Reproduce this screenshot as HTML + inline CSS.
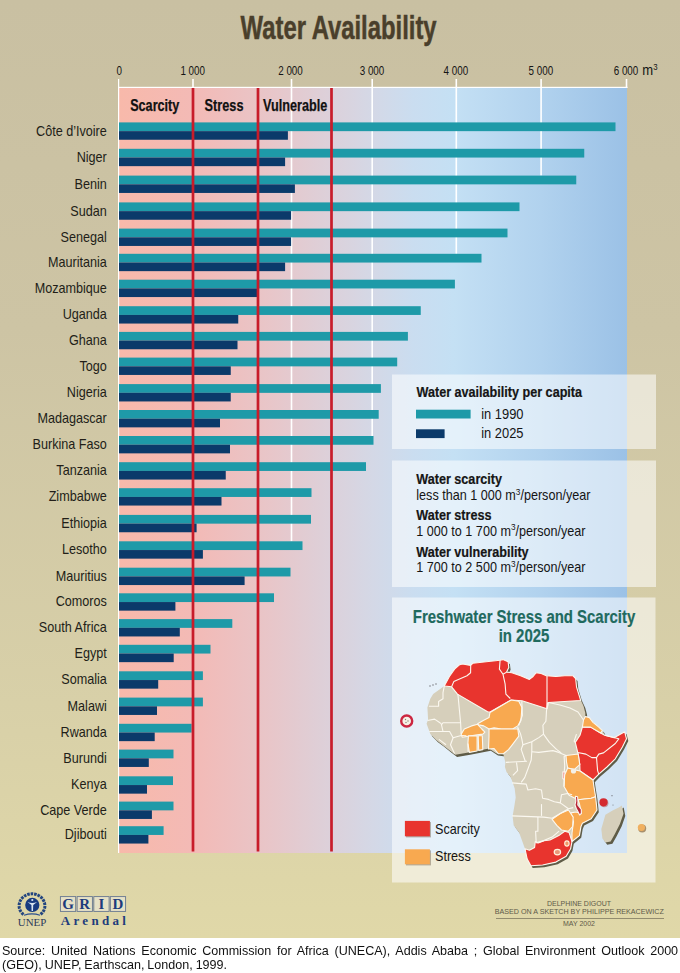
<!DOCTYPE html>
<html><head><meta charset="utf-8">
<style>
html,body{margin:0;padding:0;}
body{width:680px;height:973px;overflow:hidden;position:relative;background:#fff;font-family:"Liberation Sans",sans-serif;}
#bg{position:absolute;left:0;top:0;width:680px;height:938px;background:linear-gradient(to bottom,#C9C0A2 0%,#CDC4A4 35%,#D8D0A8 75%,#E0D8A8 100%);}
svg{position:absolute;left:0;top:0;}
#src{position:absolute;left:2px;top:944px;width:727px;font-size:13.5px;line-height:14px;color:#111;word-spacing:-0.6px;text-align:justify;text-align-last:left;transform:scaleX(0.93);transform-origin:0 0;}
</style></head><body>
<div id="bg"></div>
<svg width="680" height="938" viewBox="0 0 680 938" font-family="Liberation Sans, sans-serif">
<defs>
<linearGradient id="pg" x1="118" x2="627" y1="0" y2="0" gradientUnits="userSpaceOnUse">
<stop offset="0" stop-color="#F8B9AA"/>
<stop offset="0.15" stop-color="#F3BAB6"/>
<stop offset="0.30" stop-color="#E8C6C9"/>
<stop offset="0.50" stop-color="#D4D8E6"/>
<stop offset="0.58" stop-color="#CADDF0"/>
<stop offset="0.66" stop-color="#C4E0F4"/>
<stop offset="0.83" stop-color="#B1D2EE"/>
<stop offset="1" stop-color="#9BC1E6"/>
</linearGradient>
</defs>

<rect x="118" y="87" width="509" height="766" fill="url(#pg)"/>
<g fill="#FFFFFF">
<rect x="118" y="79" width="1.2" height="774"/>
<rect x="118" y="86.8" width="509.5" height="1.2"/>
<rect x="192.20" y="79" width="1.6" height="9.00"/>
<rect x="290.70" y="79" width="1.6" height="462.30"/>
<rect x="371.40" y="79" width="1.6" height="357.00"/>
<rect x="455.50" y="79" width="1.6" height="174.80"/>
<rect x="540.30" y="79" width="1.6" height="96.60"/>
<rect x="625.70" y="79" width="1.6" height="9.00"/>
</g>
<g>
<rect x="119.0" y="122.40" width="496.50" height="8.75" fill="#1E9AA8"/>
<rect x="119.0" y="131.15" width="168.90" height="8.6" fill="#0B3A6A"/>
<rect x="119.0" y="148.80" width="465.25" height="8.75" fill="#1E9AA8"/>
<rect x="119.0" y="157.55" width="166.10" height="8.6" fill="#0B3A6A"/>
<rect x="119.0" y="175.60" width="457.25" height="8.75" fill="#1E9AA8"/>
<rect x="119.0" y="184.35" width="175.90" height="8.6" fill="#0B3A6A"/>
<rect x="119.0" y="202.40" width="400.50" height="8.75" fill="#1E9AA8"/>
<rect x="119.0" y="211.15" width="172.10" height="8.6" fill="#0B3A6A"/>
<rect x="119.0" y="228.60" width="388.50" height="8.75" fill="#1E9AA8"/>
<rect x="119.0" y="237.35" width="172.10" height="8.6" fill="#0B3A6A"/>
<rect x="119.0" y="253.80" width="362.50" height="8.75" fill="#1E9AA8"/>
<rect x="119.0" y="262.55" width="166.10" height="8.6" fill="#0B3A6A"/>
<rect x="119.0" y="279.70" width="335.90" height="8.75" fill="#1E9AA8"/>
<rect x="119.0" y="288.45" width="138.00" height="8.6" fill="#0B3A6A"/>
<rect x="119.0" y="306.20" width="301.75" height="8.75" fill="#1E9AA8"/>
<rect x="119.0" y="314.95" width="119.25" height="8.6" fill="#0B3A6A"/>
<rect x="119.0" y="331.90" width="288.90" height="8.75" fill="#1E9AA8"/>
<rect x="119.0" y="340.65" width="118.50" height="8.6" fill="#0B3A6A"/>
<rect x="119.0" y="357.60" width="278.20" height="8.75" fill="#1E9AA8"/>
<rect x="119.0" y="366.35" width="111.75" height="8.6" fill="#0B3A6A"/>
<rect x="119.0" y="384.10" width="261.90" height="8.75" fill="#1E9AA8"/>
<rect x="119.0" y="392.85" width="111.75" height="8.6" fill="#0B3A6A"/>
<rect x="119.0" y="410.00" width="259.70" height="8.75" fill="#1E9AA8"/>
<rect x="119.0" y="418.75" width="101.00" height="8.6" fill="#0B3A6A"/>
<rect x="119.0" y="436.00" width="254.50" height="8.75" fill="#1E9AA8"/>
<rect x="119.0" y="444.75" width="111.00" height="8.6" fill="#0B3A6A"/>
<rect x="119.0" y="462.20" width="247.00" height="8.75" fill="#1E9AA8"/>
<rect x="119.0" y="470.95" width="106.75" height="8.6" fill="#0B3A6A"/>
<rect x="119.0" y="488.20" width="192.50" height="8.75" fill="#1E9AA8"/>
<rect x="119.0" y="496.95" width="102.50" height="8.6" fill="#0B3A6A"/>
<rect x="119.0" y="514.90" width="192.00" height="8.75" fill="#1E9AA8"/>
<rect x="119.0" y="523.65" width="77.60" height="8.6" fill="#0B3A6A"/>
<rect x="119.0" y="541.30" width="183.50" height="8.75" fill="#1E9AA8"/>
<rect x="119.0" y="550.05" width="83.90" height="8.6" fill="#0B3A6A"/>
<rect x="119.0" y="567.70" width="171.50" height="8.75" fill="#1E9AA8"/>
<rect x="119.0" y="576.45" width="125.60" height="8.6" fill="#0B3A6A"/>
<rect x="119.0" y="593.30" width="155.00" height="8.75" fill="#1E9AA8"/>
<rect x="119.0" y="602.05" width="56.40" height="8.6" fill="#0B3A6A"/>
<rect x="119.0" y="619.10" width="113.30" height="8.75" fill="#1E9AA8"/>
<rect x="119.0" y="627.85" width="60.80" height="8.6" fill="#0B3A6A"/>
<rect x="119.0" y="644.80" width="91.50" height="8.75" fill="#1E9AA8"/>
<rect x="119.0" y="653.55" width="54.70" height="8.6" fill="#0B3A6A"/>
<rect x="119.0" y="671.30" width="83.90" height="8.75" fill="#1E9AA8"/>
<rect x="119.0" y="680.05" width="39.20" height="8.6" fill="#0B3A6A"/>
<rect x="119.0" y="697.60" width="83.90" height="8.75" fill="#1E9AA8"/>
<rect x="119.0" y="706.35" width="38.00" height="8.6" fill="#0B3A6A"/>
<rect x="119.0" y="723.80" width="72.60" height="8.75" fill="#1E9AA8"/>
<rect x="119.0" y="732.55" width="35.70" height="8.6" fill="#0B3A6A"/>
<rect x="119.0" y="749.60" width="54.50" height="8.75" fill="#1E9AA8"/>
<rect x="119.0" y="758.35" width="29.80" height="8.6" fill="#0B3A6A"/>
<rect x="119.0" y="776.30" width="54.00" height="8.75" fill="#1E9AA8"/>
<rect x="119.0" y="785.05" width="28.00" height="8.6" fill="#0B3A6A"/>
<rect x="119.0" y="801.60" width="54.50" height="8.75" fill="#1E9AA8"/>
<rect x="119.0" y="810.35" width="32.90" height="8.6" fill="#0B3A6A"/>
<rect x="119.0" y="826.20" width="44.60" height="8.75" fill="#1E9AA8"/>
<rect x="119.0" y="834.95" width="29.40" height="8.6" fill="#0B3A6A"/>
</g>
<g fill="#C81C2A">
<rect x="191.65" y="88" width="2.7" height="763.5"/>
<rect x="256.65" y="88" width="2.7" height="763.5"/>
<rect x="330.15" y="88" width="2.7" height="763.5"/>
</g>
<g font-weight="bold" font-size="17" fill="#111" stroke="#111" stroke-width="0.25">
<text x="130.20" y="110.8" textLength="49.1" lengthAdjust="spacingAndGlyphs">Scarcity</text>
<text x="204.60" y="110.8" textLength="38.9" lengthAdjust="spacingAndGlyphs">Stress</text>
<text x="263.10" y="110.8" textLength="64.3" lengthAdjust="spacingAndGlyphs">Vulnerable</text>
</g>
<text transform="translate(119.30,74.50) scale(0.82,1)" font-size="12" text-anchor="middle" fill="#151515">0</text>
<text transform="translate(192.70,74.50) scale(0.82,1)" font-size="12" text-anchor="middle" fill="#151515">1 000</text>
<text transform="translate(290.50,74.50) scale(0.82,1)" font-size="12" text-anchor="middle" fill="#151515">2 000</text>
<text transform="translate(372.00,74.50) scale(0.82,1)" font-size="12" text-anchor="middle" fill="#151515">3 000</text>
<text transform="translate(455.80,74.50) scale(0.82,1)" font-size="12" text-anchor="middle" fill="#151515">4 000</text>
<text transform="translate(540.80,74.50) scale(0.82,1)" font-size="12" text-anchor="middle" fill="#151515">5 000</text>
<text transform="translate(626.00,74.50) scale(0.82,1)" font-size="12" text-anchor="middle" fill="#151515">6 000</text>
<text transform="translate(642.30,74.60) scale(0.87,1)" font-size="15" fill="#151515">m</text>
<text transform="translate(653.30,69.60) scale(0.87,1)" font-size="9" fill="#151515">3</text>
<text transform="translate(106.80,135.50) scale(0.87,1)" font-size="14.5" text-anchor="end" fill="#221E18">Côte d’Ivoire</text>
<text transform="translate(106.80,161.90) scale(0.87,1)" font-size="14.5" text-anchor="end" fill="#221E18">Niger</text>
<text transform="translate(106.80,188.70) scale(0.87,1)" font-size="14.5" text-anchor="end" fill="#221E18">Benin</text>
<text transform="translate(106.80,215.50) scale(0.87,1)" font-size="14.5" text-anchor="end" fill="#221E18">Sudan</text>
<text transform="translate(106.80,241.70) scale(0.87,1)" font-size="14.5" text-anchor="end" fill="#221E18">Senegal</text>
<text transform="translate(106.80,266.90) scale(0.87,1)" font-size="14.5" text-anchor="end" fill="#221E18">Mauritania</text>
<text transform="translate(106.80,292.80) scale(0.87,1)" font-size="14.5" text-anchor="end" fill="#221E18">Mozambique</text>
<text transform="translate(106.80,319.30) scale(0.87,1)" font-size="14.5" text-anchor="end" fill="#221E18">Uganda</text>
<text transform="translate(106.80,345.00) scale(0.87,1)" font-size="14.5" text-anchor="end" fill="#221E18">Ghana</text>
<text transform="translate(106.80,370.70) scale(0.87,1)" font-size="14.5" text-anchor="end" fill="#221E18">Togo</text>
<text transform="translate(106.80,397.20) scale(0.87,1)" font-size="14.5" text-anchor="end" fill="#221E18">Nigeria</text>
<text transform="translate(106.80,423.10) scale(0.87,1)" font-size="14.5" text-anchor="end" fill="#221E18">Madagascar</text>
<text transform="translate(106.80,449.10) scale(0.87,1)" font-size="14.5" text-anchor="end" fill="#221E18">Burkina Faso</text>
<text transform="translate(106.80,475.30) scale(0.87,1)" font-size="14.5" text-anchor="end" fill="#221E18">Tanzania</text>
<text transform="translate(106.80,501.30) scale(0.87,1)" font-size="14.5" text-anchor="end" fill="#221E18">Zimbabwe</text>
<text transform="translate(106.80,528.00) scale(0.87,1)" font-size="14.5" text-anchor="end" fill="#221E18">Ethiopia</text>
<text transform="translate(106.80,554.40) scale(0.87,1)" font-size="14.5" text-anchor="end" fill="#221E18">Lesotho</text>
<text transform="translate(106.80,580.80) scale(0.87,1)" font-size="14.5" text-anchor="end" fill="#221E18">Mauritius</text>
<text transform="translate(106.80,606.40) scale(0.87,1)" font-size="14.5" text-anchor="end" fill="#221E18">Comoros</text>
<text transform="translate(106.80,632.20) scale(0.87,1)" font-size="14.5" text-anchor="end" fill="#221E18">South Africa</text>
<text transform="translate(106.80,657.90) scale(0.87,1)" font-size="14.5" text-anchor="end" fill="#221E18">Egypt</text>
<text transform="translate(106.80,684.40) scale(0.87,1)" font-size="14.5" text-anchor="end" fill="#221E18">Somalia</text>
<text transform="translate(106.80,710.70) scale(0.87,1)" font-size="14.5" text-anchor="end" fill="#221E18">Malawi</text>
<text transform="translate(106.80,736.90) scale(0.87,1)" font-size="14.5" text-anchor="end" fill="#221E18">Rwanda</text>
<text transform="translate(106.80,762.70) scale(0.87,1)" font-size="14.5" text-anchor="end" fill="#221E18">Burundi</text>
<text transform="translate(106.80,789.40) scale(0.87,1)" font-size="14.5" text-anchor="end" fill="#221E18">Kenya</text>
<text transform="translate(106.80,814.70) scale(0.87,1)" font-size="14.5" text-anchor="end" fill="#221E18">Cape Verde</text>
<text transform="translate(106.80,839.30) scale(0.87,1)" font-size="14.5" text-anchor="end" fill="#221E18">Djibouti</text>
<text x="240.6" y="38.7" font-size="34" font-weight="bold" fill="#4A3F2B" stroke="#4A3F2B" stroke-width="0.5" textLength="196"  lengthAdjust="spacingAndGlyphs">Water Availability</text>
<g fill="#FFFFFF" fill-opacity="0.55">
<rect x="392" y="374.5" width="264" height="74.5"/>
<rect x="392" y="460.5" width="264" height="126.5"/>
<rect x="392" y="597.5" width="263.5" height="285"/>
</g>
<text transform="translate(416.50,396.90) scale(0.87,1)" font-size="14.5" font-weight="bold" fill="#151515" stroke="#151515" stroke-width="0.2">Water availability per capita</text>
<rect x="416" y="409.7" width="54.6" height="8.8" fill="#1E9AA8"/>
<rect x="416" y="429.3" width="28.6" height="8.8" fill="#0B3A6A"/>
<text transform="translate(481.20,419.00) scale(0.89,1)" font-size="14.5" fill="#151515">in 1990</text>
<text transform="translate(481.20,438.20) scale(0.89,1)" font-size="14.5" fill="#151515">in 2025</text>
<text transform="translate(416.30,484.40) scale(0.87,1)" font-size="14.5" font-weight="bold" fill="#151515" stroke="#151515" stroke-width="0.2">Water scarcity</text>
<text transform="translate(416.30,499.70) scale(0.87,1)" font-size="14.5" fill="#151515">less than 1 000 m<tspan font-size="9.5" dy="-5.2">3</tspan><tspan dy="5.2">/person/year</tspan></text>
<text transform="translate(416.30,520.30) scale(0.87,1)" font-size="14.5" font-weight="bold" fill="#151515" stroke="#151515" stroke-width="0.2">Water stress</text>
<text transform="translate(416.30,535.60) scale(0.87,1)" font-size="14.5" fill="#151515">1 000 to 1 700 m<tspan font-size="9.5" dy="-5.2">3</tspan><tspan dy="5.2">/person/year</tspan></text>
<text transform="translate(416.30,556.50) scale(0.87,1)" font-size="14.5" font-weight="bold" fill="#151515" stroke="#151515" stroke-width="0.2">Water vulnerability</text>
<text transform="translate(416.30,571.80) scale(0.87,1)" font-size="14.5" fill="#151515">1 700 to 2 500 m<tspan font-size="9.5" dy="-5.2">3</tspan><tspan dy="5.2">/person/year</tspan></text>
<text transform="translate(524.00,622.90) scale(0.83,1)" font-size="18" text-anchor="middle" font-weight="bold" fill="#1F6A5E" stroke="#1F6A5E" stroke-width="0.2">Freshwater Stress and Scarcity</text>
<text transform="translate(524.00,642.40) scale(0.83,1)" font-size="18" text-anchor="middle" font-weight="bold" fill="#1F6A5E" stroke="#1F6A5E" stroke-width="0.2">in 2025</text>
<defs><filter id="sh" x="-5%" y="-5%" width="110%" height="110%"><feGaussianBlur stdDeviation="0.5"/></filter></defs>
<g transform="translate(1.8,2.2)" fill="#5E5B47" filter="url(#sh)">
<polygon points="462.6,664.0 470.7,665.4 473.0,663.2 486.2,661.8 500.1,660.3 502.9,659.6 508.1,661.8 508.8,667.6 506.6,672.1 511.8,672.8 520.6,675.7 529.4,679.4 533.1,676.5 536.0,672.8 541.2,673.5 546.3,675.7 555.9,676.5 564.7,675.7 572.8,675.7 575.7,678.7 576.5,686.8 580.1,698.5 583.5,705.9 585.3,712.9 585.3,716.5 589.4,717.6 593.0,722.4 598.8,727.1 602.4,730.6 604.7,735.3 614.1,737.8 624.7,731.8 626.5,738.8 622.4,747.0 615.3,758.8 607.0,767.0 598.8,774.1 593.0,780.0 594.0,787.0 595.6,796.8 597.0,810.0 591.2,818.8 582.4,823.2 580.9,826.8 579.4,835.6 572.0,841.5 570.6,848.8 566.2,856.2 555.9,862.1 542.6,865.0 530.9,865.7 527.2,859.1 525.0,848.8 519.1,832.6 513.7,825.4 512.6,816.2 514.2,806.9 515.7,797.6 514.7,788.4 512.6,782.2 510.6,777.1 506.5,771.9 504.9,766.8 505.4,762.6 504.4,758.5 503.4,754.2 496.2,753.2 489.0,748.5 468.4,752.6 455.3,754.7 449.4,750.3 442.0,744.4 436.2,740.0 430.3,734.1 428.8,729.7 426.6,723.8 428.1,719.4 427.4,707.6 430.3,698.8 433.2,694.1 444.3,686.0 449.4,676.5 454.6,669.1 459.7,664.7"/><polygon points="621.9,805.4 623.5,813.7 619.9,824.0 614.7,834.3 610.6,841.5 605.4,842.5 602.4,838.4 601.3,829.1 605.4,814.7 612.6,810.6 618.8,807.5"/>
</g>
<polygon points="462.6,664.0 470.7,665.4 473.0,663.2 486.2,661.8 500.1,660.3 502.9,659.6 508.1,661.8 508.8,667.6 506.6,672.1 511.8,672.8 520.6,675.7 529.4,679.4 533.1,676.5 536.0,672.8 541.2,673.5 546.3,675.7 555.9,676.5 564.7,675.7 572.8,675.7 575.7,678.7 576.5,686.8 580.1,698.5 583.5,705.9 585.3,712.9 585.3,716.5 589.4,717.6 593.0,722.4 598.8,727.1 602.4,730.6 604.7,735.3 614.1,737.8 624.7,731.8 626.5,738.8 622.4,747.0 615.3,758.8 607.0,767.0 598.8,774.1 593.0,780.0 594.0,787.0 595.6,796.8 597.0,810.0 591.2,818.8 582.4,823.2 580.9,826.8 579.4,835.6 572.0,841.5 570.6,848.8 566.2,856.2 555.9,862.1 542.6,865.0 530.9,865.7 527.2,859.1 525.0,848.8 519.1,832.6 513.7,825.4 512.6,816.2 514.2,806.9 515.7,797.6 514.7,788.4 512.6,782.2 510.6,777.1 506.5,771.9 504.9,766.8 505.4,762.6 504.4,758.5 503.4,754.2 496.2,753.2 489.0,748.5 468.4,752.6 455.3,754.7 449.4,750.3 442.0,744.4 436.2,740.0 430.3,734.1 428.8,729.7 426.6,723.8 428.1,719.4 427.4,707.6 430.3,698.8 433.2,694.1 444.3,686.0 449.4,676.5 454.6,669.1 459.7,664.7" fill="#D6CFBB"/>
<polygon points="621.9,805.4 623.5,813.7 619.9,824.0 614.7,834.3 610.6,841.5 605.4,842.5 602.4,838.4 601.3,829.1 605.4,814.7 612.6,810.6 618.8,807.5" fill="#D6CFBB"/>
<g stroke="#FBF8F0" stroke-width="1.1" stroke-linejoin="round">
<polygon points="444.3,686.0 449.4,676.5 454.6,669.1 459.7,664.7 462.6,664.0 470.7,665.4 473.0,663.2 486.2,661.8 500.1,660.3 502.9,659.6 508.1,661.8 508.8,667.6 506.6,672.1 511.8,672.8 520.6,675.7 529.4,679.4 533.1,676.5 536.0,672.8 541.2,673.5 546.3,675.7 555.9,676.5 564.7,675.7 572.8,675.7 575.7,678.7 576.5,686.8 580.1,698.5 580.6,700.5 548.5,702.5 547.0,708.8 522.0,700.7 511.2,700.0 490.0,712.0 487.6,711.8 457.5,694.1 451.6,686.8" fill="#E8342E"/>
<polygon points="582.4,727.0 590.6,727.1 600.6,733.0 604.7,735.3 614.1,737.8 624.7,731.8 626.5,738.8 622.4,747.0 615.3,758.8 607.0,767.0 598.8,774.1 593.0,780.0 580.0,771.0 579.8,764.7 578.2,754.0 577.6,751.8 575.3,742.4 580.0,735.3" fill="#E8342E"/>
<polygon points="525.0,848.8 527.2,859.1 530.9,865.7 542.6,865.0 555.9,862.1 566.2,856.2 570.6,848.8 572.0,841.5 569.1,832.6 564.7,831.2 558.8,835.6 550.0,840.0 544.1,840.7 538.2,843.0 535.3,841.5 534.6,847.4 529.4,850.3" fill="#E8342E"/>
<polygon points="562.8,771.8 566.5,772.0 566.8,778.5 565.0,780.0 562.8,778.5" fill="#E8342E"/>
<polygon points="490.0,712.5 511.2,700.0 518.8,701.2 521.9,707.4 520.9,720.7 517.8,725.9 512.6,729.0 501.3,729.0 494.1,727.9 489.0,729.0 483.8,725.9 478.7,724.9 477.6,723.8 482.8,720.7 489.0,717.6" fill="#F8A950"/>
<polygon points="461.2,734.1 464.3,729.0 471.5,725.9 477.6,724.3 481.8,729.0 484.9,732.1 482.8,734.1 475.6,735.1 468.4,736.2 462.2,737.2" fill="#F8A950"/>
<polygon points="468.4,735.9 477.1,735.7 477.1,751.0 469.4,752.4 467.9,743.4" fill="#F8A950"/>
<polygon points="478.2,735.7 482.3,735.7 482.8,749.6 478.7,750.4" fill="#F8A950"/>
<polygon points="489.0,729.0 501.3,729.0 512.6,729.0 517.8,729.0 518.8,736.2 512.6,744.4 508.5,749.6 503.4,753.7 498.2,753.7 494.1,748.5 488.5,749.0 489.0,736.2" fill="#F8A950"/>
<polygon points="585.3,716.5 589.4,717.6 593.0,722.4 598.8,727.1 602.4,730.6 600.6,733.0 590.6,727.1 582.4,727.0 583.5,720.0" fill="#F8A950"/>
<polygon points="566.0,755.5 578.2,754.0 579.8,764.7 574.1,769.6 567.7,768.0 566.5,762.0" fill="#F8A950"/>
<polygon points="567.7,768.0 574.1,769.6 580.0,771.0 593.0,780.0 594.0,787.0 595.6,796.8 591.2,798.2 578.0,799.7 569.1,795.3 564.0,786.5 564.7,774.7" fill="#F8A950"/>
<polygon points="578.0,799.7 591.2,798.2 595.6,796.8 597.0,810.0 591.2,818.8 582.4,823.2 580.9,826.8 579.4,835.6 572.0,841.5 572.0,833.0 573.5,821.8 570.6,812.9 576.0,812.0 581.5,813.5 579.5,804.0" fill="#F8A950"/>
<polygon points="552.1,819.4 560.3,813.5 568.5,810.0 573.2,817.1 572.6,826.5 568.5,831.2 561.5,830.0 556.8,825.3" fill="#F8A950"/>
<polygon points="575.4,796.3 577.6,796.8 578.0,802.0 577.8,805.0 579.8,807.5 581.3,809.5 581.3,813.5 579.6,815.0 578.2,812.0 576.3,808.5 575.0,805.0 575.8,801.0" fill="#B82434"/>
</g>
<g stroke="#FBF8F0" stroke-width="1.1" fill="none" stroke-linejoin="round">
<polyline points="470.7,665.4 470.6,672.8 467.0,675.7 453.8,681.6 451.6,686.8"/>
<polyline points="500.1,660.3 499.4,669.1 503.0,674.3 506.6,672.1"/>
<polyline points="503.0,674.3 505.1,683.8 505.9,694.1 510.3,698.5"/>
<polyline points="547.0,675.7 547.0,708.8"/>
<polyline points="444.3,686.0 443.0,692.6 443.0,698.8 438.6,701.5 438.6,706.3 428.9,706.3"/>
<polyline points="457.5,694.1 458.0,695.3 460.6,722.7 443.0,722.7 441.2,725.3"/>
<polyline points="427.5,720.5 434.6,719.1 439.9,722.7 441.2,723.5"/>
<polyline points="441.2,723.5 443.0,731.5"/>
<polyline points="429.3,731.5 449.6,731.5 453.1,737.7 461.2,735.5 466.4,735.9"/>
<polyline points="460.6,722.7 461.2,734.1"/>
<polyline points="439.0,739.4 446.0,744.7"/>
<polyline points="453.1,737.7 450.5,744.7 454.5,753.5"/>
<polyline points="467.9,743.4 468.1,752.0"/>
<polyline points="521.8,701.2 522.4,715.3 518.8,725.3"/>
<polyline points="517.6,727.0 520.6,734.1 521.8,738.8 522.9,744.7 521.2,749.4 525.3,761.2"/>
<polyline points="547.6,702.4 546.5,710.6 545.9,721.2 542.9,725.3 543.5,734.1 538.8,737.6 531.8,741.8 522.9,744.7"/>
<polyline points="531.8,751.8 538.8,752.4 552.9,750.6 558.8,752.4 566.0,755.5"/>
<polyline points="543.5,734.1 549.4,742.4 556.5,749.4 561.2,752.9"/>
<polyline points="576.5,734.1 574.1,741.2 575.3,742.4"/>
<polyline points="548.5,702.5 560.0,705.0 570.0,708.0 578.0,712.0 583.5,720.0"/>
<polyline points="531.8,741.8 531.8,751.8 531.2,760.0 528.2,768.2 524.7,777.6 521.2,782.4"/>
<polyline points="505.9,762.4 527.0,761.2"/>
<polyline points="516.5,762.4 517.6,770.6 512.9,775.3"/>
<polyline points="566.0,755.5 564.1,756.5 564.7,765.9 564.1,774.1 564.1,782.4 564.0,786.5"/>
<polyline points="512.1,782.9 526.2,784.1 527.9,790.0 535.6,788.8 541.5,790.0 542.6,798.2 548.5,799.4 554.4,801.8 560.3,802.9 561.5,794.7 567.4,793.5 572.1,794.7"/>
<polyline points="541.5,804.1 541.5,815.9"/>
<polyline points="512.1,815.9 543.8,817.1 552.1,818.2 560.3,813.5 568.5,808.8 573.2,807.6"/>
<polyline points="560.3,802.9 568.5,808.8"/>
<polyline points="537.9,817.0 537.9,831.2 535.6,831.2 536.2,842.9"/>
<polyline points="536.2,842.9 543.8,840.6 552.1,837.1 559.1,831.2"/>
<polyline points="604.7,735.3 618.8,738.8 615.3,743.5 603.5,752.9 598.8,754.1 596.5,757.6 597.6,770.6 598.8,774.1"/>
<polyline points="577.6,752.5 585.9,754.1 591.8,757.6 596.5,757.6"/>
</g>
<circle cx="573.5" cy="771" r="2.6" fill="#F4F0E8"/>
<ellipse cx="557.4" cy="852.1" rx="3.2" ry="2.8" fill="#E9967A" stroke="#FFF2DC" stroke-width="1.2"/>
<ellipse cx="566.9" cy="843.5" rx="2.2" ry="2.6" fill="#EE9A6A" stroke="#FFF2DC" stroke-width="1.1"/>
<circle cx="604.3" cy="803.2" r="4.1" fill="#A0302A" opacity="0.4"/>
<circle cx="603.5" cy="802.3" r="4.1" fill="#D42A30"/>
<circle cx="642.2" cy="828.4" r="4" fill="#8A6A40" opacity="0.7"/>
<circle cx="641.4" cy="827.5" r="3.6" fill="#F0B060"/>
<circle cx="406.7" cy="721" r="5.5" fill="#F6F0E6" stroke="#CC2640" stroke-width="2.4"/>
<g fill="#8A8070"><circle cx="405.5" cy="719.5" r="0.7"/><circle cx="408" cy="721" r="0.7"/><circle cx="406" cy="722.5" r="0.7"/></g>
<g fill="#6A6A70"><circle cx="430" cy="686" r="0.7"/><circle cx="433" cy="685" r="0.7"/><circle cx="436" cy="684" r="0.7"/><circle cx="612" cy="795.7" r="0.6"/><circle cx="613" cy="805" r="0.5"/></g>
<rect x="406" y="822" width="25" height="15.4" fill="#7A6A58" opacity="0.5"/>
<rect x="404.9" y="820.9" width="25" height="15.4" fill="#E8342E"/>
<rect x="406" y="850.4" width="25" height="15" fill="#7A6A58" opacity="0.5"/>
<rect x="404.9" y="849.3" width="25" height="15" fill="#F8A950"/>
<text transform="translate(435.00,833.50) scale(0.87,1)" font-size="14.5" fill="#151515">Scarcity</text>
<text transform="translate(435.00,860.60) scale(0.87,1)" font-size="14.5" fill="#151515">Stress</text>
<g font-size="7" fill="#5E5A48" text-anchor="middle">
<text x="579" y="906.3">DELPHINE DIGOUT</text>
<text x="579.3" y="914.4" textLength="169" lengthAdjust="spacingAndGlyphs">BASED ON A SKETCH BY PHILIPPE REKACEWICZ</text>
<text x="579" y="926.2">MAY 2002</text>
</g>
<rect x="496" y="918.1" width="168" height="0.6" fill="#5E5A48"/>
<g>
<g fill="none" stroke="#23457F" stroke-width="3" stroke-dasharray="2.6 0.9">
<path d="M23.5,914.5 A13,11.5 0 0 1 19.5,903 A13,11.5 0 0 1 32,893.8 A13,11.5 0 0 1 44.5,903 A13,11.5 0 0 1 40.5,914.5"/>
</g>
<path d="M24,915.3 Q32,912.5 40,915.3" stroke="#2B4F8E" stroke-width="1.2" fill="none"/>
<circle cx="32.3" cy="904.9" r="7.1" fill="#183B80"/>
<path d="M27.5,902 Q32.3,904 37.1,902 L33.2,905 L33,911 L31.6,911 L31.4,905 Z" fill="#D8E4F0"/>
<circle cx="32.3" cy="900" r="1.1" fill="#D8E4F0"/>
<text x="32" y="926.4" font-family="Liberation Serif, serif" font-size="10" fill="#2E3A5A" text-anchor="middle" textLength="28.5" lengthAdjust="spacingAndGlyphs">UNEP</text>
</g>
<g>
<g fill="#E6E1C6" stroke="#667690" stroke-width="0.9">
<rect x="60.4" y="896.6" width="15.3" height="14.8"/>
<rect x="77.1" y="896.6" width="15.3" height="14.8"/>
<rect x="93.8" y="896.6" width="15.3" height="14.8"/>
<rect x="110.3" y="896.6" width="15.3" height="14.8"/>
</g>
<g font-family="Liberation Serif, serif" font-weight="bold" font-size="15" fill="#1E3C7C" text-anchor="middle">
<text x="68" y="909.4">G</text>
<text x="84.7" y="909.4">R</text>
<text x="101.4" y="909.4">I</text>
<text x="118" y="909.4">D</text>
</g>
<text x="60.8" y="925.3" font-family="Liberation Serif, serif" font-weight="bold" font-size="13" fill="#1E3C7C" letter-spacing="3.3">Arendal</text>
</g>

</svg>
<div id="src">Source: United Nations Economic Commission for Africa (UNECA), Addis Ababa ; Global Environment Outlook 2000 (GEO), UNEP, Earthscan, London, 1999.</div>
</body></html>
